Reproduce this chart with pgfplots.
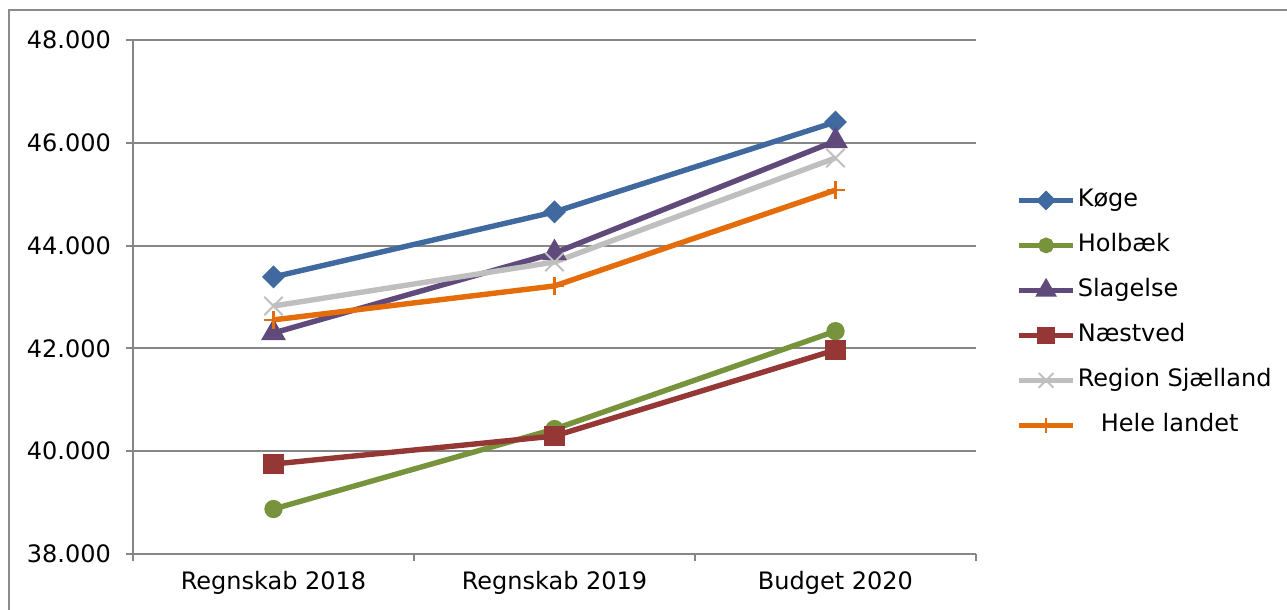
\documentclass[border=0pt]{standalone}
\usepackage{fontspec}
\setmainfont{DejaVu Sans}
\usepackage{pgfplots}
\pgfplotsset{compat=1.18}
\definecolor{koege}{HTML}{4069A0}
\definecolor{holbaek}{HTML}{77933C}
\definecolor{slagelse}{HTML}{604A7B}
\definecolor{naestved}{HTML}{953735}
\definecolor{region}{HTML}{BFBFBF}
\definecolor{hele}{HTML}{E46C0A}
\definecolor{gridgray}{HTML}{868686}
\definecolor{framegray}{HTML}{8C8C8C}

\begin{document}
\begin{tikzpicture}[x=1pt,y=1pt]
\useasboundingbox (0,0) rectangle (643.5,305);
\draw[framegray, line width=1pt] (4.5,0) -- (4.5,300) -- (643.5,300);
\begin{axis}[
  at={(66.5pt,28pt)}, anchor=south west,
  scale only axis, width=421.5pt, height=257pt,
  xmin=-0.5, xmax=2.5, ymin=38000, ymax=48000,
  ytick={38000,40000,42000,44000,46000,48000},
  scaled y ticks=false,
  /pgf/number format/fixed,
  /pgf/number format/precision=0,
  /pgf/number format/1000 sep={.},
  /pgf/number format/assume math mode=true,
  xtick={-0.5,0.5,1.5,2.5},
  x tick label as interval,
  xticklabels={Regnskab 2018, Regnskab 2019, Budget 2020},
  axis x line*=bottom, axis y line*=left,
  axis line style={gridgray, line width=1pt, -},
  tick style={gridgray, line width=1pt},
  tick align=outside, major tick length=3.5pt,
  ymajorgrids, grid style={gridgray, line width=1pt},
  every tick label/.append style={font=\fontsize{12pt}{14pt}\selectfont, text=black},
  yticklabel style={xshift=-4pt},
  xticklabel style={yshift=-1.5pt},
  every axis plot/.append style={line width=2.7pt},
  legend style={draw=none, fill=none, at={(1,0.469)}, anchor=west, xshift=20pt,
    inner sep=0pt, font=\fontsize{12pt}{14pt}\selectfont,
    nodes={inner sep=0pt, text height=9pt, text depth=2.5pt},
    row sep=11pt, column sep=1pt},
  legend cell align=left,
  legend image post style={/tikz/every mark/.append style={scale=0.8}},
  legend image code/.code={\draw[mark repeat=2,mark phase=2]
    plot coordinates {(0pt,0pt) (13.5pt,0pt) (27pt,0pt)};},
]
\addplot[koege, mark=square*, mark size=2.7pt, mark options={rotate=45, solid}]
  coordinates {(0,43390) (1,44655) (2,46405)};
\addlegendentry{Køge}
\addplot[holbaek, mark=*, mark size=3.2pt]
  coordinates {(0,38875) (1,40430) (2,42335)};
\addlegendentry{Holbæk}
\addplot[slagelse, mark=triangle*, mark size=4.5pt]
  coordinates {(0,42300) (1,43855) (2,46035)};
\addlegendentry{Slagelse}
\addplot[naestved, mark=square*, mark size=3.7pt]
  coordinates {(0,39750) (1,40295) (2,41970)};
\addlegendentry{Næstved}
\addplot[region, mark=x, mark size=6.5pt, mark options={line width=1pt}]
  coordinates {(0,42825) (1,43680) (2,45705)};
\addlegendentry{Region Sjælland}
\addplot[hele, mark=+, mark size=4.5pt, mark options={line width=1.1pt}]
  coordinates {(0,42555) (1,43215) (2,45080)};
\addlegendentry{\hspace{11.5pt}Hele landet}
\end{axis}
\end{tikzpicture}
\end{document}
